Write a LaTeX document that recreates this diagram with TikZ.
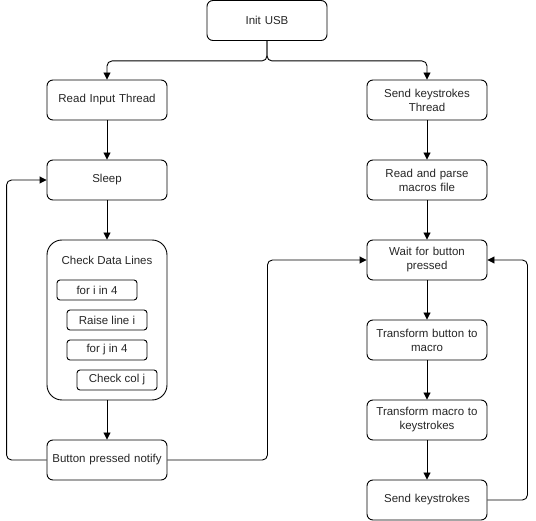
\documentclass[tikz,border=0pt]{standalone}
\usepackage{fontspec}
\setmainfont{Liberation Sans}
\usetikzlibrary{arrows.meta}
\begin{document}
\begin{tikzpicture}[x=1pt,y=-1pt,
  every node/.style={font=\fontsize{11.5}{14}\selectfont, text=black!85},
  box/.style={draw=black, line width=0.9pt, rounded corners=6pt, minimum width=120pt, minimum height=40pt, align=center, text width=112pt, inner sep=2pt},
  smallbox/.style={draw=black, line width=0.9pt, rounded corners=3pt, minimum width=80pt, minimum height=20pt, inner sep=1pt},
  bigbox/.style={draw=black, line width=0.9pt, rounded corners=15pt, minimum width=120pt, minimum height=160pt, inner sep=0pt},
  arr/.style={draw=black, line width=0.9pt, rounded corners=5pt, -{Triangle[length=7pt,width=7pt]}}]
\useasboundingbox (0,0) rectangle (536,521);
% nodes
\node[box] (init) at (267,20.5) {Init USB};
\node[box] (readin) at (107,100) {Read Input Thread};
\node[box] (sendth) at (427,100) {Send keystrokes\\Thread};
\node[box] (sleep) at (107,180) {Sleep};
\node[bigbox] (check) at (107,320) {};
\node (checklbl) at (107,260) {Check Data Lines};
\node[smallbox] (fori) at (97,290) {for i in 4};
\node[smallbox] (raise) at (107,320) {Raise line i};
\node[smallbox] (forj) at (107,350) {for j in 4};
\node[smallbox] (checkcol) at (117,380) {Check col j};
\node[box] (button) at (107,460) {Button pressed notify};
\node[box] (parse) at (427,180) {Read and parse\\macros file};
\node[box] (wait) at (427,260) {Wait for button\\pressed};
\node[box] (tbm) at (427,340) {Transform button to\\macro};
\node[box] (tmk) at (427,420) {Transform macro to\\keystrokes};
\node[box] (send) at (427,500) {Send keystrokes};
% connectors
\draw[arr] (init.south) -- ++(0,20) -| (readin.north);
\draw[arr] (init.south) -- ++(0,20) -| (sendth.north);
\draw[arr] (readin) -- (sleep);
\draw[arr] (sleep) -- (check);
\draw[arr] (check) -- (button);
\draw[arr] (button.west) -- ++(-40,0) |- (sleep.west);
\draw[arr] (button.east) -- ++(100,0) |- (wait.west);
\draw[arr] (sendth) -- (parse);
\draw[arr] (parse) -- (wait);
\draw[arr] (wait) -- (tbm);
\draw[arr] (tbm) -- (tmk);
\draw[arr] (tmk) -- (send);
\draw[arr] (send.east) -- ++(40,0) |- (wait.east);
\end{tikzpicture}
\end{document}
